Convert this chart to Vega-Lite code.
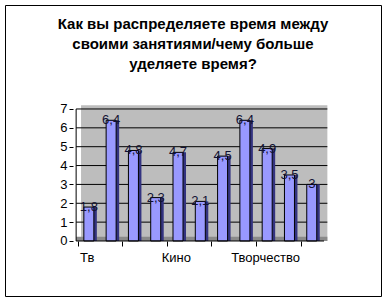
{
  "$schema": "https://vega.github.io/schema/vega-lite/v6.json",
  "width": 376,
  "height": 291,
  "autosize": {"type": "none"},
  "padding": {"left": 5, "top": 5, "right": 8, "bottom": 6},
  "background": "white",
  "title": {
    "text": ["Как вы распределяете время между", "своими занятиями/чему больше", "уделяете время?"],
    "font": "Liberation Sans",
    "fontSize": 15,
    "fontWeight": "bold",
    "lineHeight": 20,
    "anchor": "middle",
    "frame": "group",
    "offset": -67,
    "color": "black"
  },
  "config": {
    "view": {"stroke": "black", "strokeWidth": 1},
    "locale": {"number": {"decimal": ",", "thousands": " ", "grouping": [3], "currency": ["", ""]}}
  },
  "datasets": {
    "one": [{"k": 1}],
    "bars": [
      {"i": 1, "v": 1.8},
      {"i": 2, "v": 6.4},
      {"i": 3, "v": 4.8},
      {"i": 4, "v": 2.3},
      {"i": 5, "v": 4.7},
      {"i": 6, "v": 2.1},
      {"i": 7, "v": 4.5},
      {"i": 8, "v": 6.4},
      {"i": 9, "v": 4.9},
      {"i": 10, "v": 3.5},
      {"i": 11, "v": 3}
    ],
    "grid": [{"g": 1}, {"g": 2}, {"g": 3}, {"g": 4}, {"g": 5}, {"g": 6}, {"g": 7}]
  },
  "layer": [
    {
      "data": {"name": "one"},
      "mark": {"type": "rect", "fill": "#bdbdbd"},
      "encoding": {
        "x": {"datum": 0.65, "type": "quantitative", "scale": {"domain": [-2.537, 13.882], "nice": false, "zero": false}},
        "x2": {"datum": 11.7},
        "y": {"datum": 0, "type": "quantitative", "scale": {"domain": [-2.917, 12.513], "nice": false, "zero": false}},
        "y2": {"datum": 7.2}
      }
    },
    {
      "data": {"name": "one"},
      "mark": {"type": "rect", "fill": "#8a8a8a"},
      "encoding": {
        "x": {"datum": 0.43, "type": "quantitative", "scale": {"domain": [-2.537, 13.882], "nice": false, "zero": false}},
        "x2": {"datum": 11.7},
        "y": {"datum": 0, "type": "quantitative", "scale": {"domain": [-2.917, 12.513], "nice": false, "zero": false}},
        "y2": {"datum": 0.22}
      }
    },
    {
      "data": {"name": "grid"},
      "mark": {"type": "rule", "color": "black", "strokeWidth": 1},
      "encoding": {
        "x": {"datum": 0.43, "type": "quantitative", "scale": {"domain": [-2.537, 13.882], "nice": false, "zero": false}},
        "x2": {"datum": 11.7},
        "y": {"field": "g", "type": "quantitative", "scale": {"domain": [-2.917, 12.513], "nice": false, "zero": false}}
      }
    },
    {
      "data": {"name": "bars"},
      "mark": {"type": "bar", "width": 12, "xOffset": 2, "fill": "#333380"},
      "encoding": {
        "x": {"field": "i", "type": "quantitative", "scale": {"domain": [-2.537, 13.882], "nice": false, "zero": false}},
        "y": {"field": "v", "type": "quantitative", "scale": {"domain": [-2.917, 12.513], "nice": false, "zero": false}},
        "y2": {"datum": 0}
      }
    },
    {
      "data": {"name": "bars"},
      "mark": {"type": "bar", "width": 10, "fill": "#9999ff", "stroke": "black", "strokeWidth": 1},
      "encoding": {
        "x": {
          "field": "i", "type": "quantitative",
          "scale": {"domain": [-2.537, 13.882], "nice": false, "zero": false},
          "axis": {
            "title": null,
            "values": [0.5, 1.5, 2.5, 3.5, 4.5, 5.5, 6.5, 7.5, 8.5, 9.5, 10.5, 11.5],
            "labelExpr": "datum.value == 0.5 ? 'Тв' : datum.value == 4.5 ? 'Кино' : datum.value == 8.5 ? 'Творчество' : ''",
            "labelOffset": 9,
            "offset": -55,
            "domain": false,
            "grid": false,
            "tickSize": 5,
            "tickColor": "black",
            "labelFont": "Liberation Sans",
            "labelFontSize": 13,
            "labelColor": "black",
            "labelPadding": 5,
            "labelOverlap": false,
            "labelBound": false,
            "labelFlush": false
          }
        },
        "y": {
          "field": "v", "type": "quantitative",
          "scale": {"domain": [-2.917, 12.513], "nice": false, "zero": false},
          "axis": {
            "title": null,
            "values": [0, 1, 2, 3, 4, 5, 6, 7],
            "format": "d",
            "offset": -68,
            "domain": false,
            "grid": false,
            "tickSize": 4,
            "tickColor": "black",
            "labelFont": "Liberation Sans",
            "labelFontSize": 13,
            "labelColor": "black",
            "labelPadding": 2,
            "labelOverlap": false,
            "labelBound": false,
            "labelFlush": false
          }
        },
        "y2": {"datum": 0}
      }
    },
    {
      "data": {"name": "one"},
      "mark": {"type": "rule", "color": "black", "strokeWidth": 1},
      "encoding": {
        "x": {"datum": 0.43, "type": "quantitative", "scale": {"domain": [-2.537, 13.882], "nice": false, "zero": false}},
        "y": {"datum": 0, "type": "quantitative", "scale": {"domain": [-2.917, 12.513], "nice": false, "zero": false}},
        "y2": {"datum": 7}
      }
    },
    {
      "data": {"name": "one"},
      "mark": {"type": "rule", "color": "black", "strokeWidth": 1},
      "encoding": {
        "x": {"datum": 0.43, "type": "quantitative", "scale": {"domain": [-2.537, 13.882], "nice": false, "zero": false}},
        "x2": {"datum": 11.55},
        "y": {"datum": 0, "type": "quantitative", "scale": {"domain": [-2.917, 12.513], "nice": false, "zero": false}}
      }
    },
    {
      "data": {"name": "bars"},
      "mark": {"type": "text", "font": "Liberation Sans", "fontSize": 13, "color": "#111133", "baseline": "middle", "align": "center"},
      "encoding": {
        "x": {"field": "i", "type": "quantitative", "scale": {"domain": [-2.537, 13.882], "nice": false, "zero": false}},
        "y": {"field": "v", "type": "quantitative", "scale": {"domain": [-2.917, 12.513], "nice": false, "zero": false}},
        "text": {"field": "v", "type": "quantitative", "format": ".2~g"}
      }
    }
  ]
}
